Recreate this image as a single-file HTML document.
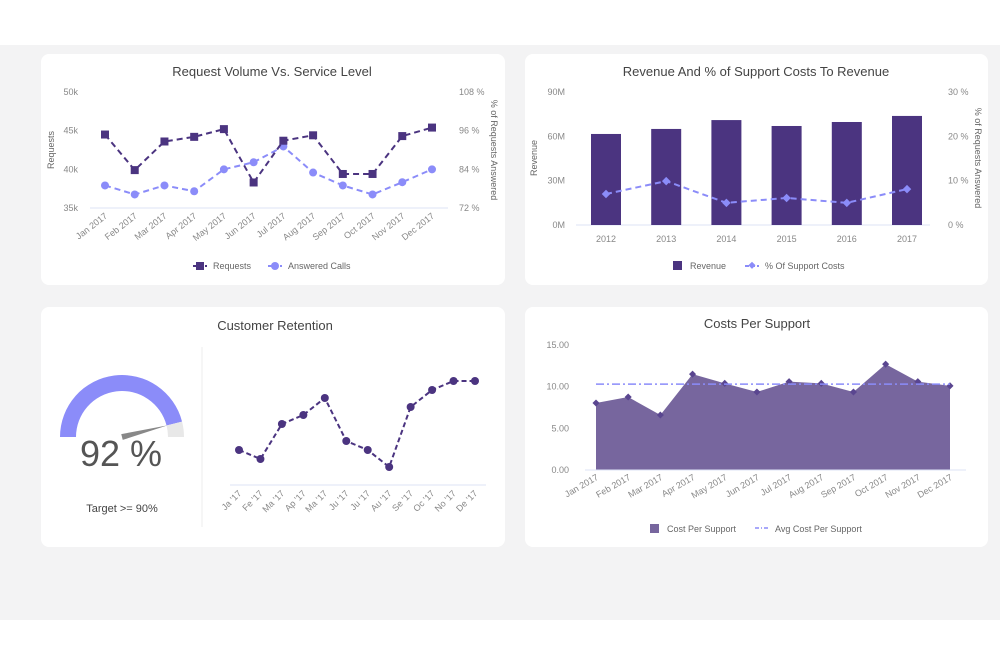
<!DOCTYPE html>
<html><head><meta charset="utf-8">
<style>
body{margin:0;width:1000px;height:665px;background:#fff;font-family:"Liberation Sans",sans-serif;overflow:hidden}
#bg{position:absolute;left:0;top:45px;width:1000px;height:575px;background:#f3f3f4}
.card{position:absolute;background:#fff;border-radius:8px}
svg{position:absolute;left:0;top:0}
text{font-family:"Liberation Sans",sans-serif}
</style></head><body>
<div id="bg"></div>
<div class="card" style="left:41px;top:54px;width:464px;height:231px"></div>
<div class="card" style="left:525px;top:54px;width:463px;height:231px"></div>
<div class="card" style="left:41px;top:307px;width:464px;height:240px"></div>
<div class="card" style="left:525px;top:307px;width:463px;height:240px"></div>
<svg id="s" width="1000" height="665"></svg>
<script>
const months=["Jan 2017","Feb 2017","Mar 2017","Apr 2017","May 2017","Jun 2017","Jul 2017","Aug 2017","Sep 2017","Oct 2017","Nov 2017","Dec 2017"];
const requests=[44.5,39.9,43.6,44.2,45.2,38.3,43.7,44.4,39.4,39.4,44.3,45.4];
const answered=[79,76.2,79,77.2,84,86.2,91.1,83,79,76.2,80,84];
const reqTicks=["35k","40k","45k","50k"];
const ansTicks=["72 %","84 %","96 %","108 %"];
const years=["2012","2013","2014","2015","2016","2017"];
const revenue=[61.6,65,71,67,69.7,73.8];
const supportPct=[7,9.9,5,6.1,5,8.1];
const revTicks=["0M","30M","60M","90M"];
const pctTicks=["0 %","10 %","20 %","30 %"];
const retentionGauge=92;
const retLabels=["Ja '17","Fe '17","Ma '17","Ap '17","Ma '17","Ju '17","Ju '17","Au '17","Se '17","Oc '17","No '17","De '17"];
const retention=[87.5,86.6,90.1,91,92.7,88.4,87.5,85.8,91.8,93.5,94.4,94.4];
const costs=[8.04,8.76,6.6,11.5,10.4,9.36,10.6,10.4,9.36,12.7,10.6,10.1];
const avgCost=10.3;
const costTicks=["0.00","5.00","10.00","15.00"];

const S=document.getElementById('s');const NS="http://www.w3.org/2000/svg";
function el(t,a,txt){const e=document.createElementNS(NS,t);for(const k in a)e.setAttribute(k,a[k]);if(txt!==undefined)e.textContent=txt;S.appendChild(e);return e;}
const DK="#4b3480",LT="#8b8cf9",TX="#666",GR="#888";
function title(x,y,t,n){const e=el('text',{x:x,y:y,'text-anchor':'middle','font-size':13,fill:'#444'},t);

}
function lin(d0,d1,r0,r1){return v=>r0+(v-d0)/(d1-d0)*(r1-r0);}

// Chart 1
title(272,76,"Request Volume Vs. Service Level","request-volume-title");
{const x=i=>105+i*(432-105)/11,yL=lin(35,50,208,92),yR=lin(72,108,208,92);
el('line',{x1:90,x2:448,y1:208,y2:208,stroke:'#dde3f5'});
reqTicks.forEach((t,i)=>{const e=el('text',{x:78,y:yL(35+5*i)+3,'text-anchor':'end','font-size':9,fill:GR},t);

});
ansTicks.forEach((t,i)=>{const e=el('text',{x:459,y:yR(72+12*i)+3,'font-size':9,fill:GR},t);

});
el('text',{x:0,y:0,transform:'translate(54,150) rotate(-90)','text-anchor':'middle','font-size':9,fill:TX},'Requests');
el('text',{x:0,y:0,transform:'translate(491,150) rotate(90)','text-anchor':'middle','font-size':9,fill:TX},'% of Requests Answered');
months.forEach((m,i)=>{const e=el('text',{x:0,y:0,transform:`translate(${x(i)+3},${217}) rotate(-38)`,'text-anchor':'end','font-size':9,fill:GR},m);

});
el('polyline',{points:answered.map((v,i)=>x(i)+','+yR(v)).join(' '),fill:'none',stroke:LT,'stroke-width':2,'stroke-dasharray':'6,4'});
answered.forEach((v,i)=>{const c=el('circle',{cx:x(i),cy:yR(v),r:4,fill:LT});

});
el('polyline',{points:requests.map((v,i)=>x(i)+','+yL(v)).join(' '),fill:'none',stroke:DK,'stroke-width':2,'stroke-dasharray':'6,4'});
requests.forEach((v,i)=>{const r=el('rect',{x:x(i)-4,y:yL(v)-4,width:8,height:8,fill:DK});

});
el('line',{x1:193,x2:207,y1:266,y2:266,stroke:DK,'stroke-width':2,'stroke-dasharray':'4,2'});el('rect',{x:196,y:262,width:8,height:8,fill:DK});
el('text',{x:213,y:269,'font-size':9,fill:TX},'Requests');
el('line',{x1:268,x2:282,y1:266,y2:266,stroke:LT,'stroke-width':2,'stroke-dasharray':'4,2'});el('circle',{cx:275,cy:266,r:4,fill:LT});
el('text',{x:288,y:269,'font-size':9,fill:TX},'Answered Calls');}

// Chart 2
title(756,76,"Revenue And % of Support Costs To Revenue","revenue-title");
{const x=i=>606+i*60.2,yL=lin(0,90,225,92),yR=lin(0,30,225,92);
el('line',{x1:576,x2:930,y1:225,y2:225,stroke:'#dde3f5'});
revTicks.forEach((t,i)=>{const e=el('text',{x:565,y:yL(30*i)+3,'text-anchor':'end','font-size':9,fill:GR},t);

});
pctTicks.forEach((t,i)=>{const e=el('text',{x:948,y:yR(10*i)+3,'font-size':9,fill:GR},t);

});
el('text',{x:0,y:0,transform:'translate(537,158) rotate(-90)','text-anchor':'middle','font-size':9,fill:TX},'Revenue');
el('text',{x:0,y:0,transform:'translate(975,158) rotate(90)','text-anchor':'middle','font-size':9,fill:TX},'% of Requests Answered');
years.forEach((yv,i)=>{const e=el('text',{x:x(i),y:242,'text-anchor':'middle','font-size':9,fill:GR},yv);


const b=el('rect',{x:x(i)-15,y:yL(revenue[i]),width:30,height:225-yL(revenue[i]),fill:DK});

});
el('polyline',{points:supportPct.map((v,i)=>x(i)+','+yR(v)).join(' '),fill:'none',stroke:LT,'stroke-width':2,'stroke-dasharray':'6,4'});
supportPct.forEach((v,i)=>{const d=el('rect',{x:x(i)-3,y:yR(v)-3,width:6,height:6,fill:LT,transform:`rotate(45 ${x(i)} ${yR(v)})`});

});
el('rect',{x:673,y:261,width:9,height:9,fill:DK});el('text',{x:690,y:269,'font-size':9,fill:TX},'Revenue');
el('line',{x1:745,x2:759,y1:266,y2:266,stroke:LT,'stroke-width':2,'stroke-dasharray':'4,2'});el('rect',{x:749,y:263,width:5,height:5,fill:LT,transform:'rotate(45 752 266)'});
el('text',{x:765,y:269,'font-size':9,fill:TX},'% Of Support Costs');}

// Chart 3
title(275,330,"Customer Retention","retention-title");
{const cx=122,cy=437,R=62,r=46;
function arc(a0,a1,col){const p=(a,rr)=>[cx+rr*Math.cos(a),cy-rr*Math.sin(a)];const[A,B,C,D]=[p(a0,R),p(a1,R),p(a1,r),p(a0,r)];
return el('path',{d:`M${A} A${R},${R} 0 0 1 ${B} L${C} A${r},${r} 0 0 0 ${D}Z`,fill:col});}
const frac=retentionGauge/100;const ang=Math.PI*(1-frac);
const g1=arc(Math.PI,ang,LT);
const g2=arc(ang,0,'#e8e8e8');
const tx=cx+r*1.02*Math.cos(ang),ty=cy-r*1.02*Math.sin(ang),nx=-Math.sin(ang)*3,ny=-Math.cos(ang)*3;
const nd=el('path',{d:`M${cx-nx},${cy-ny} L${tx},${ty} L${cx+nx},${cy+ny}Z`,fill:'#888'});

el('text',{x:121,y:466,'text-anchor':'middle','font-size':36,fill:'#555'},retentionGauge+' %');
el('text',{x:122,y:512,'text-anchor':'middle','font-size':11,fill:'#444'},'Target >=  90%');
el('line',{x1:202,x2:202,y1:347,y2:527,stroke:'#eee'});
const x=i=>239+i*(475-239)/11,y=lin(84,96,485,365);
el('line',{x1:230,x2:486,y1:485,y2:485,stroke:'#dde3f5'});
retLabels.forEach((m,i)=>{const e=el('text',{x:0,y:0,transform:`translate(${x(i)+3},${494}) rotate(-45)`,'text-anchor':'end','font-size':9,fill:GR},m);
});
el('polyline',{points:retention.map((v,i)=>x(i)+','+y(v)).join(' '),fill:'none',stroke:DK,'stroke-width':2,'stroke-dasharray':'5,3'});
retention.forEach((v,i)=>{const c=el('circle',{cx:x(i),cy:y(v),r:4,fill:DK});
});}

// Chart 4
title(757,328,"Costs Per Support","costs-title");
{const x=i=>596+i*(950-596)/11,y=lin(0,15,470,345);
costTicks.forEach((t,i)=>{const e=el('text',{x:569,y:y(5*i)+3,'text-anchor':'end','font-size':9,fill:GR},t);
});
const a=el('path',{d:`M${x(0)},470 `+costs.map((v,i)=>`L${x(i)},${y(v)}`).join(' ')+` L${x(11)},470Z`,fill:'#77669e'});

el('line',{x1:585,x2:966,y1:470,y2:470,stroke:'#dde3f5'});
costs.forEach((v,i)=>{const d=el('rect',{x:x(i)-2.5,y:y(v)-2.5,width:5,height:5,fill:'#5a4690',transform:`rotate(45 ${x(i)} ${y(v)})`});
});
const al=el('line',{x1:x(0),x2:x(11),y1:y(avgCost),y2:y(avgCost),stroke:LT,'stroke-width':1.5,'stroke-dasharray':'8,3,2,3'});

months.forEach((m,i)=>{const e=el('text',{x:0,y:0,transform:`translate(${x(i)+3},${479}) rotate(-30)`,'text-anchor':'end','font-size':9,fill:GR},m);
});
el('rect',{x:650,y:524,width:9,height:9,fill:'#77669e'});el('text',{x:667,y:532,'font-size':9,fill:TX},'Cost Per Support');
el('line',{x1:755,x2:769,y1:528,y2:528,stroke:LT,'stroke-width':1.5,'stroke-dasharray':'4,2,1,2'});
el('text',{x:775,y:532,'font-size':9,fill:TX},'Avg Cost Per Support');}
</script>
</body></html>
